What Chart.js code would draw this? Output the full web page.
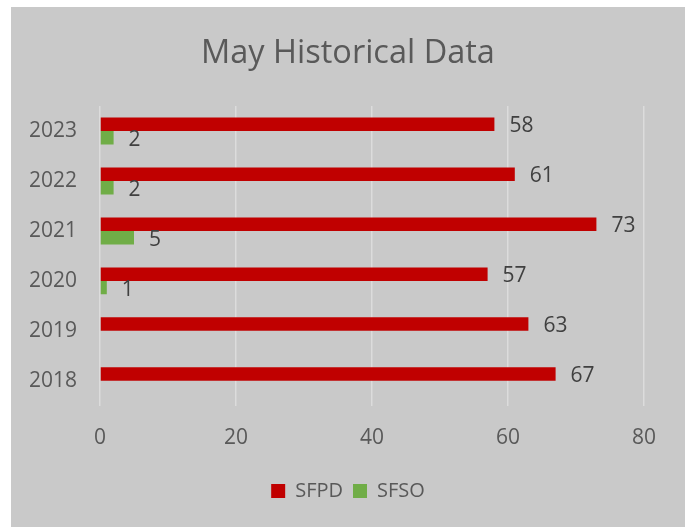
<!DOCTYPE html>
<html>
<head>
<meta charset="utf-8">
<script src="https://cdn.jsdelivr.net/npm/chart.js@4.4.1/dist/chart.umd.min.js"></script>
<style>
  body { margin: 0; background: #fff; }
  #box { position: absolute; left: 11px; top: 7px; width: 674px; height: 520px; background: #c9c9c9; }
</style>
</head>
<body>
<div id="box"><canvas id="chart"></canvas></div>
<script>
// 데이터
const years = ['2023', '2022', '2021', '2020', '2019', '2018'];
const sfpd = [58, 61, 73, 57, 63, 67];
const sfso = [2, 2, 5, 1, null, null];
const xTicks = [0, 20, 40, 60, 80];

const FONT = "'Open Sans', sans-serif";

// 막대 끝에 값 표시
const valueLabels = {
  id: 'valueLabels',
  afterDatasetsDraw(chart) {
    const ctx = chart.ctx;
    ctx.save();
    ctx.font = "21px " + FONT;
    ctx.fillStyle = '#404040';
    ctx.textAlign = 'left';
    ctx.textBaseline = 'middle';
    chart.data.datasets.forEach((ds, i) => {
      chart.getDatasetMeta(i).data.forEach((bar, j) => {
        const v = ds.data[j];
        if (v === null) return;
        ctx.fillText(v, bar.x + 15, bar.y + 2);
      });
    });
    ctx.restore();
  }
};

new Chart(document.getElementById('chart'), {
  type: 'bar',
  data: {
    labels: years,
    datasets: [
      { label: 'SFPD', data: sfpd, backgroundColor: '#c00000' },
      { label: 'SFSO', data: sfso, backgroundColor: '#70ad47' }
    ]
  },
  options: {
    indexAxis: 'y',
    responsive: true,
    maintainAspectRatio: false,
    animation: false,
    barPercentage: 1,
    categoryPercentage: 0.54,
    layout: { padding: { left: 0, right: 0, top: 0, bottom: 16 } },
    plugins: {
      title: {
        display: true,
        text: 'May Historical Data',
        color: '#595959',
        font: { family: FONT, size: 32.5, weight: 'normal' },
        padding: { top: 27, bottom: 33 }
      },
      legend: {
        position: 'bottom',
        labels: {
          color: '#595959',
          font: { family: FONT, size: 20 },
          boxWidth: 14,
          boxHeight: 14,
          padding: 10
        }
      },
      tooltip: { enabled: false }
    },
    scales: {
      x: {
        min: 0,
        max: 80,
        afterBuildTicks: (axis) => { axis.ticks = xTicks.map(v => ({ value: v })); },
        grid: { color: '#dcdcdc', lineWidth: 1.5, drawTicks: false },
        border: { display: false },
        ticks: { color: '#595959', font: { family: FONT, size: 21 }, padding: 20 }
      },
      y: {
        grid: { display: false },
        border: { display: false },
        afterFit: (axis) => { axis.width = 89; },
        ticks: { color: '#595959', font: { family: FONT, size: 21 }, padding: 15 }
      },
      // 오른쪽 여백용 빈 축
      yRight: {
        type: 'category',
        position: 'right',
        grid: { display: false },
        border: { display: false },
        ticks: { display: false },
        afterFit: (axis) => { axis.width = 41; }
      }
    }
  },
  plugins: [valueLabels]
});
</script>
</body>
</html>
